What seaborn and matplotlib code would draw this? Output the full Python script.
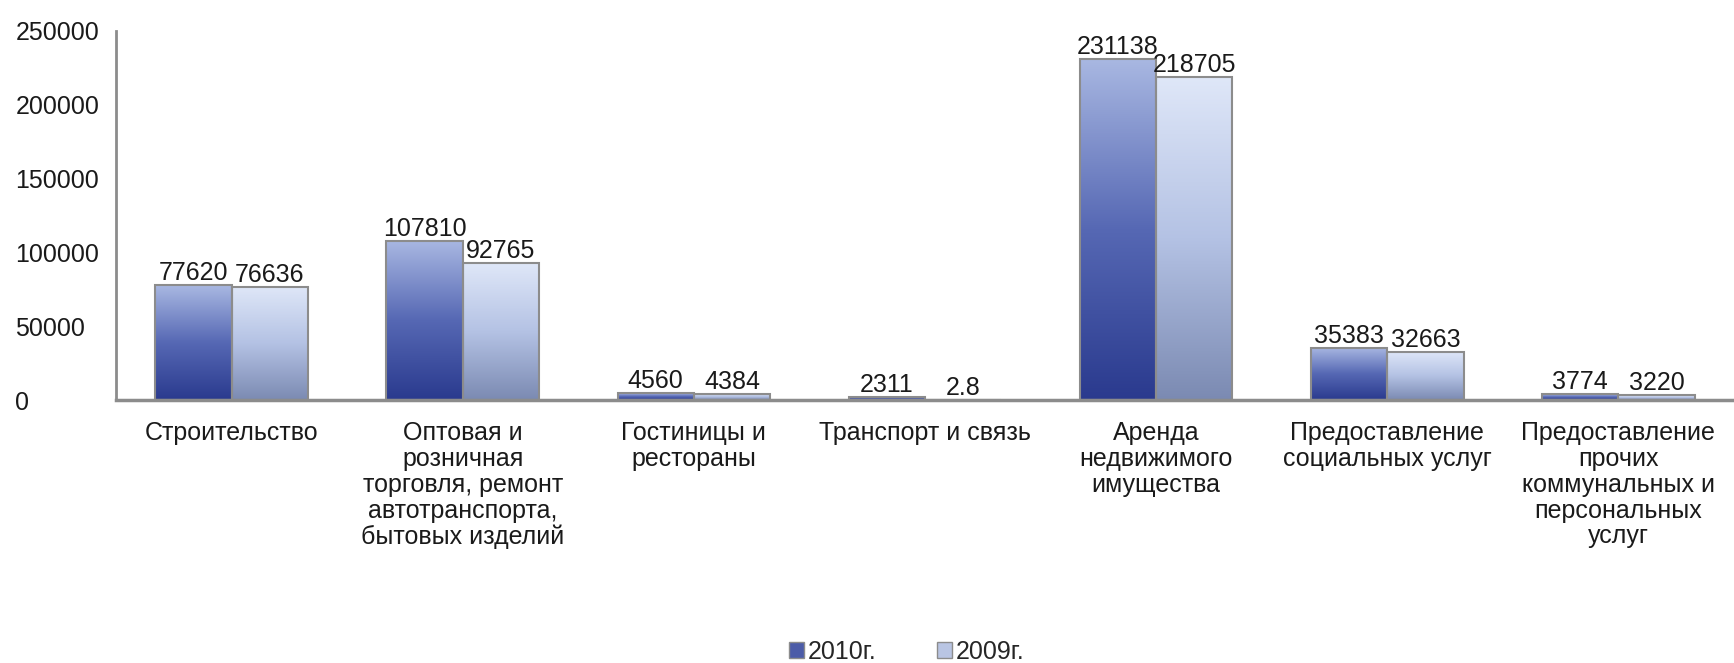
import numpy as np
import pandas as pd
import matplotlib
matplotlib.use("Agg")
import matplotlib.pyplot as plt
import seaborn as sns
from matplotlib.colors import LinearSegmentedColormap
from matplotlib.patches import Patch

# data
categories = [
    "Строительство",
    "Оптовая и\nрозничная\nторговля, ремонт\nавтотранспорта,\nбытовых изделий",
    "Гостиницы и\nрестораны",
    "Транспорт и связь",
    "Аренда\nнедвижимого\nимущества",
    "Предоставление\nсоциальных услуг",
    "Предоставление\nпрочих\nкоммунальных и\nперсональных\nуслуг",
]
values_2010 = [77620, 107810, 4560, 2311, 231138, 35383, 3774]
values_2009 = [76636, 92765, 4384, 2.8, 218705, 32663, 3220]
years = ["2010г.", "2009г."]
y_ticks = [0, 50000, 100000, 150000, 200000, 250000]

df = pd.DataFrame({
    "category": categories * 2,
    "value": values_2010 + values_2009,
    "year": [years[0]] * len(categories) + [years[1]] * len(categories),
})

sns.set_theme(style="white")
plt.rcParams['font.family'] = ['Liberation Sans', 'DejaVu Sans']

fig = plt.figure(figsize=(17.34, 6.63), dpi=100)
ax = fig.add_axes([116 / 1734, 1 - 400 / 663, 1 - 116 / 1734, (400 - 31) / 663])

sns.barplot(data=df, x="category", y="value", hue="year", hue_order=years,
            order=categories, width=0.66, ax=ax, legend=False,
            edgecolor="#8c8c8c", linewidth=1.5, errorbar=None)

# gradient fills, dark at the bottom, light at the top
cmaps = [
    LinearSegmentedColormap.from_list("g2010", ["#2a3a8e", "#5668b4", "#a9b8e2"]),
    LinearSegmentedColormap.from_list("g2009", ["#7b8ab2", "#b4c2e4", "#dfe7f8"]),
]
grad = np.linspace(0, 1, 256).reshape(-1, 1)
for cont, cmap in zip(ax.containers, cmaps):
    for bar in cont:
        x0, y0 = bar.get_x(), bar.get_y()
        w, h = bar.get_width(), bar.get_height()
        im = ax.imshow(grad, extent=[x0, x0 + w, y0, y0 + h], aspect="auto",
                       cmap=cmap, origin="lower", zorder=bar.get_zorder() - 0.1)
        im.set_clip_path(bar)
        bar.set_facecolor("none")

for cont, vals in zip(ax.containers, [values_2010, values_2009]):
    ax.bar_label(cont, labels=[f"{v:g}" for v in vals], padding=0,
                 fontsize=18, color="#1a1a1a")

ax.set_xlim(-0.5, len(categories) - 0.5)
ax.set_ylim(0, 250000)
ax.set_yticks(y_ticks)
ax.set_yticklabels([str(t) for t in y_ticks])
for lab in ax.get_yticklabels():
    lab.set_horizontalalignment("left")
ax.tick_params(axis="y", length=0, pad=72.5, labelsize=18, labelcolor="#1a1a1a")
ax.tick_params(axis="x", length=0, pad=15, labelsize=18, labelcolor="#1a1a1a")
for lab in ax.get_xticklabels():
    lab.set_linespacing(1.1)
    lab.set_verticalalignment("top")
ax.set_xlabel("")
ax.set_ylabel("")

for side in ["top", "right"]:
    ax.spines[side].set_visible(False)
ax.spines["left"].set_color("#8c8c8c")
ax.spines["left"].set_linewidth(2)
ax.spines["bottom"].set_color("#8c8c8c")
ax.spines["bottom"].set_linewidth(2.5)

handles = [Patch(facecolor="#4c5ca8", edgecolor="#8c8c8c"),
           Patch(facecolor="#b9c5e3", edgecolor="#8c8c8c")]
fig.legend(handles, years, loc="center", bbox_to_anchor=(0.523, 0.017),
           ncol=2, frameon=False, fontsize=18, handlelength=0.6,
           handleheight=0.6, handletextpad=0.15, columnspacing=2.4)

fig.savefig("out.png", dpi=100, facecolor="white")
